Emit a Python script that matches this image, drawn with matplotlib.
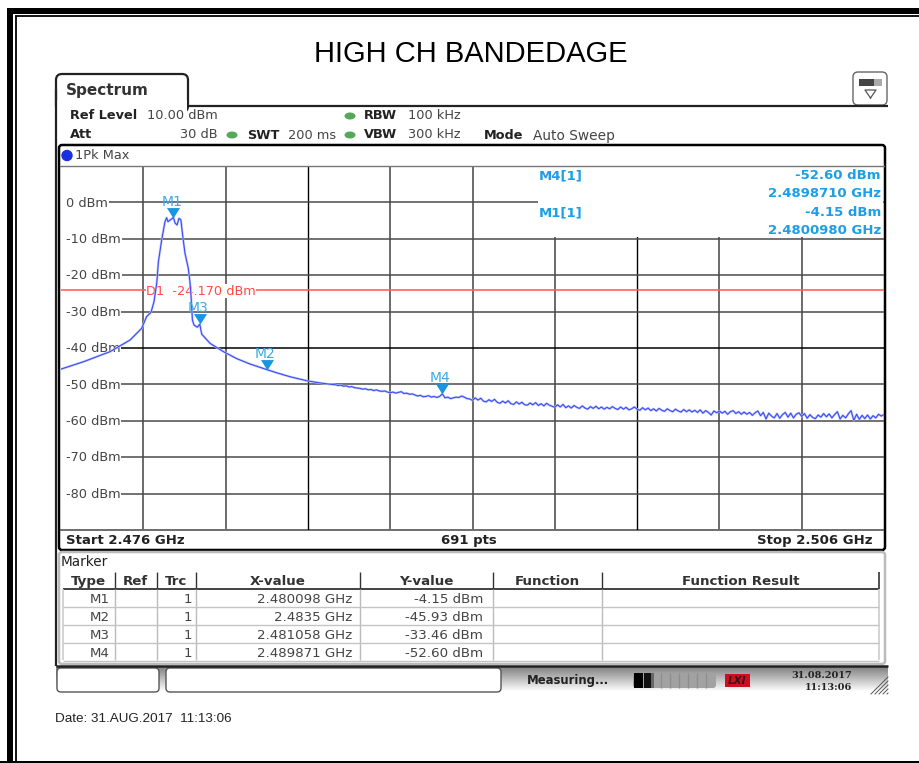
import numpy as np
import matplotlib
matplotlib.use("Agg")
import matplotlib.pyplot as plt
from matplotlib.patches import FancyBboxPatch, Rectangle, Ellipse

W, H = 920, 763

# trace around the carrier
peak_freq = [2.47600, 2.47681, 2.47779, 2.47852, 2.47894, 2.47912, 2.47928, 2.47939,
             2.47949, 2.47955, 2.47967, 2.47979, 2.47985, 2.47990, 2.47997, 2.480098,
             2.48016, 2.48023, 2.48030, 2.48037, 2.48044, 2.48052, 2.48064, 2.48070,
             2.48075, 2.48079, 2.48085, 2.48097, 2.481058, 2.48113, 2.48143, 2.48192,
             2.48240, 2.48289, 2.4835, 2.48386, 2.48435, 2.48496, 2.48544, 2.48575]
peak_level = [-45.8, -43.8, -41.0, -37.8, -34.6, -31.4, -30.2, -27.3,
              -22.2, -16.3, -10.3, -5.3, -4.2, -5.3, -4.9, -4.15,
              -5.7, -6.2, -4.4, -4.8, -9.4, -14.0, -18.1, -21.8,
              -26.8, -32.3, -33.7, -34.3, -33.46, -36.2, -38.7, -41.0,
              -42.9, -44.4, -45.93, -46.8, -47.9, -49.0, -49.6, -49.9]

# tail of the trace, one value per 0.1 MHz from 2.486 GHz
tail_level = [
    -50.1, -50.3, -50.2, -50.5, -50.4, -50.7, -50.6, -50.9, -51.0, -51.1,
    -51.3, -51.2, -51.5, -51.4, -51.7, -51.5, -51.8, -51.9, -51.8, -52.1,
    -52.3, -52.1, -52.4, -52.2, -52.0, -52.5, -52.4, -52.7, -52.6, -52.9,
    -53.2, -53.0, -53.4, -53.3, -53.1, -53.5, -53.3, -53.6, -53.3, -52.6,
    -53.7, -53.5, -53.9, -53.7, -53.5, -53.6, -53.2, -53.5, -53.9, -54.0,
    -54.4, -53.7, -54.3, -53.8, -54.6, -54.8, -54.2, -54.7, -54.1, -54.9,
    -55.2, -54.6, -55.1, -54.5, -55.3, -55.5, -54.8, -55.4, -54.9, -55.6,
    -55.7, -55.1, -55.6, -55.0, -55.8, -55.3, -55.9, -55.2, -55.7, -56.0,
    -56.3, -55.6, -56.2, -55.5, -56.4, -55.9, -56.5, -55.8, -56.3, -56.6,
    -55.9, -56.5, -56.8, -56.1, -56.6, -56.0, -56.7, -56.2, -56.8, -56.3,
    -56.7, -56.1, -56.6, -56.9, -56.2, -56.8, -56.3, -57.0, -56.7, -56.2,
    -56.8, -57.1, -56.4, -57.0, -56.5, -57.2, -56.7, -57.3, -56.6, -57.1,
    -57.4, -56.7, -57.2, -57.5, -56.8, -57.3, -57.6, -56.9, -57.5, -57.0,
    -57.6, -57.1, -57.7, -57.0, -57.9, -57.2, -57.7, -58.4, -57.3, -57.8,
    -57.3, -57.9, -57.4, -58.2, -57.5, -57.2, -58.0, -57.5, -58.2, -57.6,
    -58.2, -57.7, -58.5, -57.8, -57.3, -58.6, -57.7, -59.5, -57.9, -58.7,
    -59.2, -58.0, -59.3, -58.3, -57.7, -59.0, -57.9, -59.2, -58.2, -57.8,
    -58.8, -58.0, -59.3, -58.3, -59.1, -59.4, -58.4, -59.0, -58.0, -58.9,
    -58.1, -59.2, -58.3, -57.5, -59.5, -58.5, -59.2, -58.1, -57.2, -59.9,
    -58.2, -59.6, -58.5, -59.4, -58.4, -59.5, -58.6, -59.2, -58.2, -58.7,
    -58.3,
]
tail_freq = 2.486 + 0.0001 * np.arange(len(tail_level))

marker_names = ["M1", "M2", "M3", "M4"]
marker_freq = [2.480098, 2.4835, 2.481058, 2.489871]
marker_level = [-4.15, -45.93, -33.46, -52.60]
marker_xtext = ["2.480098 GHz", "2.4835 GHz", "2.481058 GHz", "2.489871 GHz"]
marker_ytext = ["-4.15 dBm", "-45.93 dBm", "-33.46 dBm", "-52.60 dBm"]

y_ticks = [0, -10, -20, -30, -40, -50, -60, -70, -80]
x_ticks = [2.479, 2.482, 2.485, 2.488, 2.491, 2.494, 2.497, 2.500, 2.503]
x_tick_dark = [2.485, 2.497]
d1_level = -24.17

FONT = "DejaVu Sans"
BLUE = "#1c9fe6"
GREY = "#444444"


fig = plt.figure(figsize=(W / 100, H / 100), dpi=100, facecolor="white")
pix = fig.add_axes([0, 0, 1, 1], zorder=0)
pix.set_xlim(0, W)
pix.set_ylim(H, 0)
pix.axis("off")


def txt(x, y, s, size=9.3, weight="normal", color=GREY, ha="left", family=FONT, on=None, **kw):
    # va=center sits a little high here, hence the +0.8
    (on or pix).text(x, y + 0.8, s, fontsize=size, fontweight=weight, color=color, ha=ha, va="center",
                     family=family, **kw)


def hline(y, x0, x1, color="black", lw=1.0):
    pix.plot([x0, x1], [y, y], color=color, lw=lw, solid_capstyle="butt")


def vline(x, y0, y1, color="black", lw=1.0):
    pix.plot([x, x], [y0, y1], color=color, lw=lw, solid_capstyle="butt")


def round_box(x0, y0, x1, y1, r=4, ec="black", fc="white", lw=1.0, z=1):
    pix.add_patch(FancyBboxPatch((x0 + r, y0 + r), x1 - x0 - 2 * r, y1 - y0 - 2 * r,
                                 boxstyle="round,pad=%d,rounding_size=%d" % (r, r),
                                 ec=ec, fc=fc, lw=lw, zorder=z))


# outer page frame
pix.add_patch(Rectangle((7, 8), W, 6, fc="black", ec="none"))
pix.add_patch(Rectangle((7, 8), 6, H, fc="black", ec="none"))
hline(16.2, 15, W, lw=1.3)
vline(15.8, 15.5, H, lw=1.3)
pix.add_patch(Rectangle((0, 761), W, 2, fc="black", ec="none"))

txt(471, 53.5, "HIGH CH BANDEDAGE", size=21, color="black", ha="center", family="Liberation Sans")

# tab and header block
round_box(56, 74, 188, 112, r=6, ec="#222222", lw=1.6)
pix.add_patch(Rectangle((57.2, 100), 129.5, 14, fc="white", ec="none", zorder=1.5))
hline(105.5, 187, 888, color="#222222", lw=1.6)
vline(56.5, 90, 666, color="#222222", lw=1.6)
txt(66, 89.5, "Spectrum", size=11, weight="bold", color="#333333")

round_box(853, 72, 887, 105, r=5, ec="#666666", lw=1.0)
pix.add_patch(Rectangle((859, 79), 15, 7, fc="#444444", ec="none", zorder=2))
pix.add_patch(Rectangle((874, 79), 8, 7, fc="#aaaaaa", ec="none", zorder=2))
pix.plot([870.5, 876, 865, 870.5], [98, 90, 90, 98], color="#555555", lw=0.9, zorder=2)

txt(70, 115, "Ref Level", weight="bold", color="#222222")
txt(147, 115, "10.00 dBm")
txt(364, 115, "RBW", weight="bold", color="#222222")
txt(408, 115, "100 kHz")
txt(70, 134, "Att", weight="bold", color="#222222")
txt(218, 134, "30 dB", ha="right")
txt(247, 135, "SWT", weight="bold", color="#222222")
txt(288, 135, "200 ms")
txt(364, 134, "VBW", weight="bold", color="#222222")
txt(408, 134, "300 kHz")
txt(484, 135, "Mode", weight="bold", color="#222222")
txt(533, 135, "Auto Sweep", size=9.9)
for dot_x, dot_y in [(350, 116), (232, 135), (350, 135)]:
    pix.add_patch(Ellipse((dot_x, dot_y), 11, 7, fc="#55a85a", ec="none"))

# diagram frame
round_box(59, 145, 885, 550, r=3, ec="black", lw=1.8)
hline(530, 60, 884, color="#555555", lw=1.2)
pix.add_patch(Ellipse((67, 155.5), 10, 10, fc="#1a2fe0", ec="#1a2fe0"))
txt(75, 155, "1Pk Max")
txt(66, 540, "Start 2.476 GHz", weight="bold", color="#222222", size=9.5)
txt(469, 540, "691 pts", weight="bold", color="#222222", ha="center", size=9.5)
txt(873, 540, "Stop 2.506 GHz", weight="bold", color="#222222", ha="right", size=9.5)

# marker table panel
round_box(59, 552, 885, 664, r=3, ec="#bbbbbb", lw=1.8)
txt(61, 561, "Marker", color="#222222", size=9.8)
col_x = [62.7, 115, 156.7, 196, 360, 492.7, 602, 879.5]
header = ["Type", "Ref", "Trc", "X-value", "Y-value", "Function", "Function Result"]
hline(589, col_x[0], col_x[-1], color="#333333", lw=1.3)
vline(62.7, 589, 660, color="#cccccc", lw=1.2)
vline(879.5, 572, 589, color="#333333", lw=1.2)
vline(879.5, 589, 660, color="#cccccc", lw=1.2)
for c in col_x[1:-1]:
    vline(c, 572, 589, color="#333333", lw=1.0)
    vline(c, 589, 660, color="#bbbbbb", lw=1.0)
for i, name in enumerate(header):
    txt((col_x[i] + col_x[i + 1]) / 2, 581, name, weight="bold", color="#333333", ha="center", size=9.6)
for i, row_y in enumerate([599, 617, 634.7, 652.3]):
    hline(row_y + 8.4, col_x[0], col_x[-1], color="#c4c4c4", lw=1.0)
    txt(110, row_y, marker_names[i], ha="right", size=9.6)
    txt(192, row_y, "1", ha="right", size=9.6)
    txt(352, row_y, marker_xtext[i], ha="right", size=9.6)
    txt(483, row_y, marker_ytext[i], ha="right", size=9.6)

# status bar
pix.imshow(np.linspace(0.5, 1.0, 16).reshape(-1, 1), extent=(56, 888, 692, 666), cmap="gray",
           vmin=0, vmax=1, aspect="auto", zorder=0.5)
pix.set_xlim(0, W)
pix.set_ylim(H, 0)
hline(665.8, 56, 888, color="#222222", lw=1.8)
round_box(57, 668, 159, 692, r=4, ec="#555555", lw=1.0)
round_box(166, 668, 501, 692, r=4, ec="#555555", lw=1.0)
txt(527, 680, "Measuring...", weight="bold", color="#222222", size=8.4)
round_box(633, 673, 716, 688, r=3, ec="none", fc="#a2a2a2", lw=0)
pix.add_patch(Rectangle((634, 673), 9, 15, fc="black", ec="none", zorder=2))
pix.add_patch(Rectangle((644, 673), 7, 15, fc="#111111", ec="none", zorder=2))
pix.add_patch(Rectangle((651, 673), 3, 15, fc="#666666", ec="none", zorder=2))
for k in range(6):
    vline(661 + 9 * k, 673, 688, color="#8e8e8e", lw=1.0)
pix.add_patch(Rectangle((725, 674), 25, 13, fc="#cc1020", ec="none", zorder=2))
txt(737.5, 680.5, "LXI", size=7.5, weight="bold", color="#401015", ha="center", style="italic", zorder=3)
txt(852, 675, "31.08.2017", size=7, weight="bold", color="#222222", ha="right", family="DejaVu Serif")
txt(852, 686.5, "11:13:06", size=7, weight="bold", color="#222222", ha="right", family="DejaVu Serif")
for k in range(5):
    pix.plot([871 + 4 * k, 888], [694, 677 + 4 * k], color="#555555", lw=0.7)

txt(55, 718, "Date: 31.AUG.2017  11:13:06", size=9.7, color="#222222", family="Liberation Sans")

# the measurement diagram itself
ax = fig.add_axes([61 / W, 1 - 530 / H, 823 / W, 364 / H], zorder=2)
ax.patch.set_alpha(0)
ax.set_xlim(2.476, 2.506)
ax.set_ylim(-90, 10)
ax.axis("off")

for f in x_ticks:
    dark = f in x_tick_dark
    ax.axvline(f, color="black" if dark else "#6a6a6a", lw=1.0 if dark else 1.4, zorder=1)
for lev in y_ticks:
    ax.axhline(lev, color="black" if lev == -40 else "#4a4a4a", lw=1.1, zorder=1)

# the readout block covers the grid in the top right corner
ax.add_patch(Rectangle((2.4934, -9.6), 0.01255, 19.8, fc="white", ec="none", zorder=2, clip_on=False))

for lev in y_ticks:
    # grid starts after the dBm label, nothing to the left of it
    ax.add_patch(Rectangle((2.476, lev - 1.5), 0.0003, 3, fc="white", ec="none", zorder=2))
    ax.annotate("%d dBm" % lev, (2.476, lev), xytext=(3.6, -0.5), textcoords="offset points",
                fontsize=9.3, color=GREY, family=FONT, va="center", zorder=3,
                bbox=dict(fc="white", ec="none", pad=0.6))

ax.axhline(d1_level, color="#ff6258", lw=1.2, zorder=4)
ax.annotate("D1  -24.170 dBm", (2.479, d1_level), xytext=(2, -0.5), textcoords="offset points",
            fontsize=9.3, color="#ff4a40", family=FONT, va="center", zorder=4.5,
            bbox=dict(fc="white", ec="none", pad=0.2))

trace_x = np.concatenate([peak_freq, tail_freq])
trace_y = np.concatenate([peak_level, tail_level])
ax.plot(trace_x, trace_y, color="#b4bdff", lw=1.6, zorder=5)
ax.plot(trace_x, trace_y, color="#3445f2", lw=0.7, zorder=6)

tip_down = [(-5, 8), (5, 8), (0, 0)]
ax.plot(marker_freq, marker_level, ls="none", marker=tip_down, ms=15, color="#1a96de",
        mec="none", zorder=7)
for name, f, lev in zip(marker_names, marker_freq, marker_level):
    ax.annotate(name, (f, lev), xytext=(-1, 11.5), textcoords="offset points", fontsize=10,
                color="#3fa9e6", family=FONT, ha="center", va="center", zorder=8)

# readout sits on top of the diagram, so it gets its own pixel layer
top = fig.add_axes([0, 0, 1, 1], zorder=3)
top.patch.set_alpha(0)
top.set_xlim(0, W)
top.set_ylim(H, 0)
top.axis("off")
top.plot([60, 884], [165.8, 165.8], color="#777777", lw=1.0)
txt(539, 175, "M4[1]", size=9.5, weight="bold", color=BLUE, on=top)
txt(539, 212, "M1[1]", size=9.5, weight="bold", color=BLUE, on=top)
readout = [(175, "-52.60 dBm"), (193, "2.4898710 GHz"), (212, "-4.15 dBm"), (230, "2.4800980 GHz")]
for ry, s in readout:
    txt(881, ry, s, size=9.5, weight="bold", color=BLUE, ha="right", on=top)

fig.savefig("out.png", dpi=100)
